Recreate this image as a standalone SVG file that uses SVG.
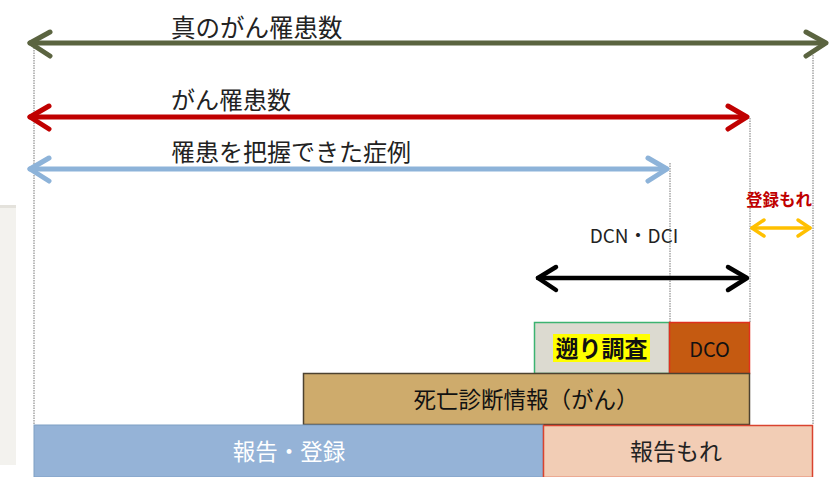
<svg xmlns="http://www.w3.org/2000/svg" width="831" height="477" viewBox="0 0 831 477">
<style>
.t{font-family:"Noto Sans CJK JP","Liberation Sans",sans-serif;}
.dot{stroke:#777;stroke-width:1;stroke-dasharray:1.5 1;fill:none;}
.ln{fill:none;stroke-linecap:round;stroke-linejoin:round;}
</style>
<rect x="0" y="205" width="16" height="260" fill="#f3f2ee"/>
<rect x="0" y="205" width="16" height="3" fill="#e4e2dc"/>
<g id="guides">
<line class="dot" x1="34" y1="45" x2="34" y2="425"/>
<line class="dot" x1="670" y1="163" x2="670" y2="322"/>
<line class="dot" x1="750" y1="118" x2="750" y2="322"/>
<line class="dot" x1="813" y1="55" x2="813" y2="425"/>
</g>
<g id="connectors">
<g stroke="#5b6440" stroke-width="5" class="ln">
<line x1="30" y1="43" x2="824" y2="43"/>
<polyline points="50,32 30,43 50,56"/>
<polyline points="806,32 826,43 806,56"/>
</g>
<g stroke="#c00000" stroke-width="5" class="ln">
<line x1="30" y1="117" x2="746" y2="117"/>
<polyline points="49,106 30,117 49,129"/>
<polyline points="728,106 747,117 728,129"/>
</g>
<g stroke="#8db3d9" stroke-width="5" class="ln">
<line x1="30" y1="169" x2="666" y2="169"/>
<polyline points="49,158 30,169 49,181"/>
<polyline points="648,158 667,169 648,181"/>
</g>
<g stroke="#ffc000" stroke-width="3.5" class="ln">
<line x1="752" y1="228" x2="810" y2="228"/>
<polyline points="764,220 752,228 764,236"/>
<polyline points="798,220 810,228 798,236"/>
</g>
<g stroke="#000" stroke-width="4.5" class="ln">
<line x1="538" y1="278" x2="746" y2="278"/>
<polyline points="556,267 538,278 556,290"/>
<polyline points="728,267 747,278 728,290"/>
</g>
</g>
<g id="label-true" class="t"><text x="171" y="37" font-size="24.5" fill="#222">真のがん罹患数</text></g>
<g id="label-cancer" class="t"><text x="171" y="109" font-size="24" fill="#222">がん罹患数</text></g>
<g id="label-known" class="t"><text x="171" y="161" font-size="24" fill="#222">罹患を把握できた症例</text></g>
<g id="label-toroku" class="t"><text x="779" y="206" font-size="16.5" font-weight="bold" fill="#c00000" text-anchor="middle">登録もれ</text></g>
<g id="label-dcn" class="t"><text x="634" y="243" font-size="19" fill="#222" text-anchor="middle">DCN・DCI</text></g>
<g id="node-sakanobori">
<rect x="534.5" y="322.5" width="135" height="51" fill="#dcdad0" stroke="#3cb371" stroke-width="1.5"/>
<rect x="553" y="334" width="97" height="28" fill="#ffff00"/>
<text class="t" x="601.5" y="357" font-size="23" font-weight="bold" fill="#111" text-anchor="middle">遡り調査</text>
</g>
<g id="node-dco">
<rect x="669.5" y="322.5" width="80" height="51" fill="#c55a11" stroke="#e0301e" stroke-width="1.5"/>
<text class="t" x="709.5" y="357" font-size="20" fill="#111" text-anchor="middle">DCO</text>
</g>
<g id="node-death">
<rect x="303.5" y="373.5" width="446" height="51" fill="#ceab6c" stroke="#4d4230" stroke-width="1.5"/>
<text class="t" x="526" y="408" font-size="22.5" fill="#111" text-anchor="middle">死亡診断情報（がん）</text>
</g>
<g id="node-report">
<rect x="34" y="425" width="509" height="52" fill="#95b3d7" stroke="#7f9fc4" stroke-width="1"/>
<text class="t" x="289" y="460" font-size="22.5" fill="#fff" text-anchor="middle">報告・登録</text>
</g>
<g id="node-miss">
<rect x="543.5" y="425.5" width="269" height="52" fill="#f2cdb5" stroke="#d9432f" stroke-width="1.5"/>
<text class="t" x="676" y="460" font-size="23" fill="#222" text-anchor="middle">報告もれ</text>
</g>
</svg>
